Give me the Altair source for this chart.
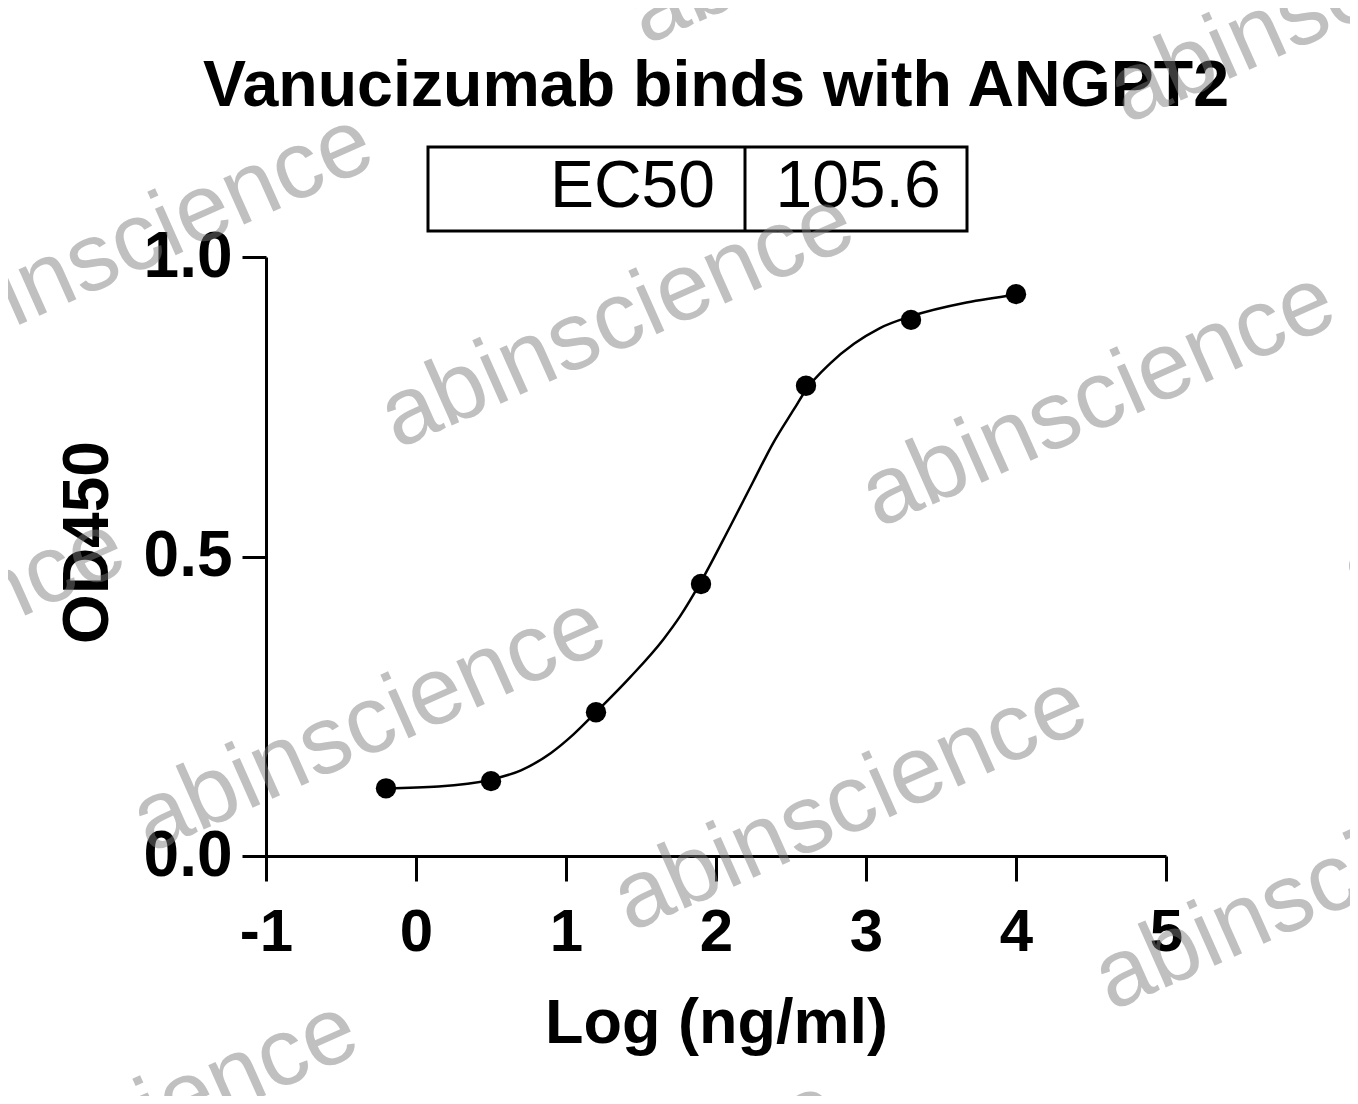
import altair as alt
import pandas as pd

# ---------------- data ----------------
log_conc = [-0.2, 0.5, 1.2, 1.9, 2.6, 3.3, 4.0]
od450 = [0.113, 0.125, 0.240, 0.454, 0.785, 0.895, 0.938]

# fitted curve
fit_x = [-0.2, 0.15, 0.49, 0.7, 0.9, 1.05, 1.2, 1.43, 1.65, 1.76, 1.9, 2.09,
         2.25, 2.38, 2.52, 2.6, 2.76, 2.92, 3.09, 3.3, 3.67, 4.0]
fit_y = [0.113, 0.116, 0.127, 0.143, 0.172, 0.203, 0.240, 0.299, 0.362,
         0.400, 0.458, 0.548, 0.626, 0.689, 0.746, 0.778, 0.822, 0.855,
         0.881, 0.901, 0.924, 0.937]

x_ticks = [-1, 0, 1, 2, 3, 4, 5]
y_ticks = [0.0, 0.5, 1.0]

title_text = "Vanucizumab binds with ANGPT2"
x_title = "Log (ng/ml)"
y_title = "OD450"
ec50_label = ["EC50"]
ec50_value = ["105.6"]
watermark_text = "abinscience"

# ---------------- layout / style ----------------
FONT = "Liberation Sans"
W, H = 900, 599

pts = pd.DataFrame({"x": log_conc, "y": od450})
fit = pd.DataFrame({"x": fit_x, "y": fit_y})

# watermark lattice (decoration, pixel positions relative to plot area)
wm_origin = (351, 63)
wm_a = (481, 79)
wm_b = (-248, 404)
wm_rows = []
for i, j in [(0, 0), (1, 0), (-1, 0), (0, 1), (1, 1), (-1, 1), (2, 0), (2, 1),
             (0, -1), (1, -1), (0, 2), (1, 2), (-1, -1), (2, 2), (-1, 2)]:
    wm_rows.append({"wx": wm_origin[0] + i * wm_a[0] + j * wm_b[0],
                    "wy": wm_origin[1] + i * wm_a[1] + j * wm_b[1],
                    "t": watermark_text})
wm = pd.DataFrame(wm_rows)

xscale = alt.Scale(domain=[-1, 5], nice=False, zero=False)
yscale = alt.Scale(domain=[0, 1], nice=False, zero=False)

x_axis = alt.Axis(values=x_ticks, title=x_title, labelExpr="datum.value + ''",
                  grid=False, tickSize=25, tickWidth=3, domainWidth=3,
                  domainColor="black", tickColor="black",
                  labelFont=FONT, labelFontSize=60, labelFontWeight="bold",
                  labelColor="black", labelPadding=22, labelFlush=False,
                  titleFont=FONT, titleFontSize=63, titleFontWeight="bold",
                  titleColor="black", titlePadding=30)
y_axis = alt.Axis(values=y_ticks, title=y_title, format=".1f",
                  grid=False, tickSize=24, tickWidth=3, domainWidth=3,
                  domainColor="black", tickColor="black",
                  labelFont=FONT, labelFontSize=64, labelFontWeight="bold",
                  labelColor="black", labelPadding=10, labelFlush=False,
                  titleFont=FONT, titleFontSize=64, titleFontWeight="bold",
                  titleColor="black", titlePadding=23, titleY=285)

curve = alt.Chart(fit).mark_line(color="black", strokeWidth=2.5,
                                 interpolate="monotone").encode(
    x=alt.X("x:Q", scale=xscale, axis=x_axis),
    y=alt.Y("y:Q", scale=yscale, axis=y_axis),
)

points = alt.Chart(pts).mark_circle(color="black", opacity=1, size=415).encode(
    x=alt.X("x:Q", scale=xscale),
    y=alt.Y("y:Q", scale=yscale),
)

one = pd.DataFrame({"k": [0]})

title_mark = alt.Chart(pd.DataFrame({"t": [title_text]})).mark_text(
    font=FONT, fontSize=64.5, fontWeight="bold", color="black",
    align="center", baseline="alphabetic").encode(
    x=alt.value(W / 2), y=alt.value(-151), text="t:N")

box = alt.Chart(one).mark_rect(fillOpacity=0, stroke="black",
                               strokeWidth=3).encode(
    x=alt.value(162), x2=alt.value(701), y=alt.value(-110), y2=alt.value(-26))
divider = alt.Chart(one).mark_rule(color="black", strokeWidth=3).encode(
    x=alt.value(479), y=alt.value(-110), y2=alt.value(-26))
ec_lab = alt.Chart(pd.DataFrame({"t": ec50_label})).mark_text(
    font=FONT, fontSize=66, color="black", align="right",
    baseline="alphabetic").encode(x=alt.value(449), y=alt.value(-50), text="t:N")
ec_val = alt.Chart(pd.DataFrame({"t": ec50_value})).mark_text(
    font=FONT, fontSize=66, color="black", align="center",
    baseline="alphabetic").encode(x=alt.value(592), y=alt.value(-50), text="t:N")

watermarks = alt.Chart(wm).mark_text(
    font=FONT, fontSize=96, angle=336, color="#7d7d7d", opacity=0.48,
    align="center", baseline="middle").encode(
    x=alt.X("wx:Q", scale=None, axis=None),
    y=alt.Y("wy:Q", scale=None, axis=None),
    text="t:N")

chart = alt.layer(curve, points, title_mark, box, divider, ec_lab, ec_val,
                  watermarks).properties(
    width=W, height=H,
    autosize=alt.AutoSizeParams(type="none"),
    padding={"left": 258, "top": 249, "right": 184, "bottom": 240},
    background="white",
).configure_view(strokeWidth=0)

chart.save("out.html", embed_options={"renderer": "svg", "actions": False})
